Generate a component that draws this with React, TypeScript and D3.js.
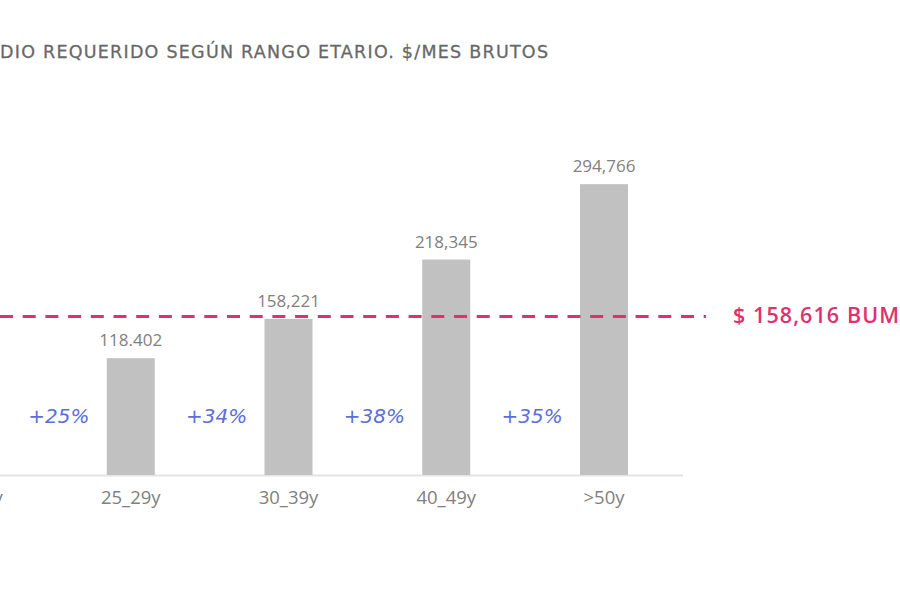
import React, { useRef, useEffect } from 'react';
import * as d3 from 'd3';

const categories = ['18_24y', '25_29y', '30_39y', '40_49y', '>50y'];
const values = [94725, 118402, 158221, 218345, 294766];
const valueLabels = ['94,725', '118.402', '158,221', '218,345', '294,766'];
const growthLabels = ['+25%', '+34%', '+38%', '+35%'];
const benchmark = 158616;
const benchmarkLabel = '$ 158,616 BUM';
const title = 'DIO REQUERIDO SEGÚN RANGO ETARIO. $/MES BRUTOS';

const W = 900;
const H = 600;
const FONT = "'Open Sans', Lato, sans-serif";
const WIDE = "'DejaVu Sans', 'Open Sans', sans-serif";

const App: React.FC = () => {
    const ref = useRef<SVGSVGElement>(null);

    useEffect(() => {
        document.body.style.margin = '0';
        if (!ref.current) return;
        const svg = d3.select(ref.current);
        svg.selectAll('*').remove();

        const x = d3.scalePoint<string>().domain(categories).range([-27, 604]);
        const y = d3.scaleLinear().domain([0, 300000]).range([475, 179]);
        const barW = 48;

        // title, starts at the left edge like the cropped source
        svg.append('text')
            .attr('x', 0)
            .attr('y', 58)
            .attr('font-family', WIDE)
            .attr('font-size', 17.5)
            .attr('fill', '#686868')
            .attr('stroke', '#686868')
            .attr('stroke-width', 0.3)
            .attr('textLength', 548)
            .attr('lengthAdjust', 'spacing')
            .text(title);

        // baseline
        svg.append('line')
            .attr('x1', 0).attr('x2', 683)
            .attr('y1', y(0) + 0.5).attr('y2', y(0) + 0.5)
            .attr('stroke', '#e4e4e4')
            .attr('stroke-width', 2);

        svg.selectAll('.bar')
            .data(values)
            .enter()
            .append('rect')
            .attr('class', 'bar')
            .attr('x', (d, i) => x(categories[i])! - barW / 2)
            .attr('y', d => y(d))
            .attr('width', barW)
            .attr('height', d => y(0) - y(d))
            .attr('fill', '#c1c1c1');

        svg.selectAll('.vlab')
            .data(values)
            .enter()
            .append('text')
            .attr('class', 'vlab')
            .attr('x', (d, i) => x(categories[i])!)
            .attr('y', d => y(d) - 12)
            .attr('text-anchor', 'middle')
            .attr('font-family', FONT)
            .attr('font-size', 17)
            .attr('fill', '#808080')
            .text((d, i) => valueLabels[i]);

        svg.selectAll('.cat')
            .data(categories)
            .enter()
            .append('text')
            .attr('class', 'cat')
            .attr('x', d => x(d)!)
            .attr('y', 504)
            .attr('text-anchor', 'middle')
            .attr('font-family', FONT)
            .attr('font-size', 18.5)
            .attr('fill', '#808080')
            .text(d => d);

        svg.selectAll('.growth')
            .data(growthLabels)
            .enter()
            .append('text')
            .attr('class', 'growth')
            .attr('x', (d, i) => (x(categories[i])! + x(categories[i + 1])!) / 2 + 7)
            .attr('y', 423)
            .attr('text-anchor', 'middle')
            .attr('font-family', WIDE)
            .attr('font-size', 20)
            .attr('font-style', 'italic')
            .attr('fill', '#5d6ddc')
            .text(d => d);

        // benchmark line
        svg.append('line')
            .attr('x1', 0).attr('x2', 706)
            .attr('y1', y(benchmark) - 2).attr('y2', y(benchmark) - 2)
            .attr('stroke', '#e0306e')
            .attr('stroke-width', 3)
            .attr('stroke-dasharray', '13,9.7');

        svg.append('text')
            .attr('x', 733)
            .attr('y', y(benchmark) + 5)
            .attr('font-family', FONT)
            .attr('font-size', 21.5)
            .attr('font-weight', 600)
            .attr('fill', '#e0306e')
            .attr('textLength', 166)
            .attr('lengthAdjust', 'spacing')
            .text(benchmarkLabel);
    }, []);

    return <svg ref={ref} width={W} height={H} style={{ display: 'block', background: '#fff' }}></svg>;
};

export default App;
